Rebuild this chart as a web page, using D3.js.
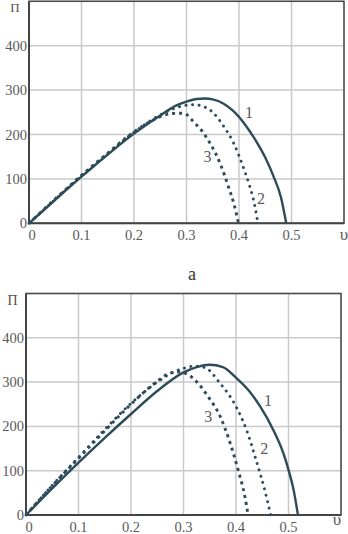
<!DOCTYPE html>
<html><head><meta charset="utf-8">
<script src="https://cdn.jsdelivr.net/npm/d3@7"></script>
<style>body{margin:0;background:#fff}svg{display:block}</style>
</head><body>
<script>
// ---- data ----
const xTicks = [0, 0.1, 0.2, 0.3, 0.4, 0.5];
const xTickLabels = ["0", "0.1", "0.2", "0.3", "0.4", "0.5"];
const yTicks = [0, 100, 200, 300, 400];
const yTickLabels = ["0", "100", "200", "300", "400"];
const seriesNames = ["1", "2", "3"];
// chart a (top)
const a1 = [[0,0],[0.05,53],[0.1,105],[0.15,155],[0.2,202],[0.25,243],[0.28,265],[0.3,274],[0.32,280],[0.335,281],[0.35,279],[0.37,270],[0.39,252],[0.41,225],[0.43,190],[0.45,148],[0.465,108],[0.48,58],[0.49,0]];
const a2 = [[0,0],[0.05,54],[0.1,107],[0.15,157],[0.2,205],[0.25,244],[0.28,260],[0.3,266],[0.315,267],[0.33,264],[0.35,250],[0.37,220],[0.39,180],[0.41,120],[0.42,85],[0.43,40],[0.436,0]];
const a3 = [[0,0],[0.05,55],[0.1,108],[0.15,158],[0.2,206],[0.25,240],[0.27,247],[0.29,248],[0.3,245],[0.313,229],[0.33,207],[0.345,180],[0.364,135],[0.38,82],[0.39,45],[0.399,0]];
// chart b (bottom)
const b1 = [[0,0],[0.05,60],[0.1,118],[0.15,174],[0.2,228],[0.25,280],[0.3,322],[0.325,334],[0.35,339],[0.375,334],[0.4,310],[0.425,280],[0.446,245],[0.471,192],[0.49,140],[0.5,102],[0.51,55],[0.518,0]];
const b2 = [[0,0],[0.05,67],[0.1,130],[0.15,193],[0.2,252],[0.25,300],[0.28,322],[0.3,331],[0.32,336],[0.34,333],[0.37,297],[0.4,245],[0.42,192],[0.44,117],[0.455,55],[0.466,0]];
const b3 = [[0,0],[0.05,66],[0.1,128],[0.15,190],[0.2,250],[0.25,302],[0.27,318],[0.29,323],[0.31,316],[0.325,301],[0.347,267],[0.37,222],[0.389,162],[0.404,102],[0.417,41],[0.423,0]];

const W = 348, H = 534;
const FONT = '"Liberation Serif"';
const svg = d3.select("body").append("svg").attr("width", W).attr("height", H);
const curveColor = "#2d4b58";
const textColor = "#5a5a5a";

function txt(g) {
  return g.append("text").style("font-family", FONT);
}

function drawChart(cfg) {
  const x = d3.scaleLinear().domain([0, 0.6]).range([cfg.x0, cfg.x1]);
  const y = d3.scaleLinear().domain([0, 500]).range([cfg.y0, cfg.y1]);
  const g = svg.append("g");
  // grid
  g.selectAll(".gx").data(xTicks.concat([0.6]).slice(1)).enter().append("line")
    .attr("x1", d => x(d)).attr("x2", d => x(d)).attr("y1", y(0)).attr("y2", y(500))
    .attr("stroke", "#c9c9c9").attr("stroke-width", 1.5);
  g.selectAll(".gy").data(yTicks.concat([500]).slice(1)).enter().append("line")
    .attr("y1", d => y(d)).attr("y2", d => y(d)).attr("x1", x(0)).attr("x2", x(0.6))
    .attr("stroke", "#c9c9c9").attr("stroke-width", 1.5);
  // border
  g.append("rect").attr("x", x(0)).attr("y", y(500)).attr("width", x(0.6) - x(0)).attr("height", y(0) - y(500))
    .attr("fill", "none").attr("stroke", "#4a4a4a").attr("stroke-width", 1.5);
  g.append("line").attr("x1", x(0)).attr("x2", x(0)).attr("y1", y(0)).attr("y2", y(500)).attr("stroke", "#444").attr("stroke-width", 2);
  g.append("line").attr("x1", x(0)).attr("x2", x(0.6)).attr("y1", y(0)).attr("y2", y(0)).attr("stroke", "#444").attr("stroke-width", 2);
  // tick labels
  g.selectAll(".xl").data(xTicks).enter().append("text").style("font-family", FONT)
    .attr("x", (d, i) => x(d) + (i === 0 ? 3 : 0)).attr("y", cfg.y0 + 17)
    .attr("text-anchor", "middle").attr("font-size", 14.5).attr("fill", textColor)
    .text((d, i) => xTickLabels[i]);
  g.selectAll(".yl").data(yTicks).enter().append("text").style("font-family", FONT)
    .attr("x", cfg.x0 - 2).attr("y", d => y(d) + 5)
    .attr("text-anchor", "end").attr("font-size", 14.5).attr("fill", textColor)
    .text((d, i) => yTickLabels[i]);
  txt(g).attr("x", cfg.piX).attr("y", cfg.piY).attr("text-anchor", "middle")
    .attr("font-size", cfg.piSize).attr("fill", "#5a5040").text("П");
  txt(g).attr("x", cfg.nuX).attr("y", cfg.nuY).attr("text-anchor", "middle")
    .attr("font-size", 17).attr("fill", textColor).text("υ");
  // curves
  const line = d3.line().x(d => x(d[0])).y(d => y(d[1])).curve(d3.curveMonotoneX);
  const styles = [
    {dash: null, w: 2.4, cap: "butt"},
    {dash: "0.1 6.5", w: 2.9, cap: "round"},
    {dash: "3 4", w: 2.9, cap: "butt"}
  ];
  cfg.series.forEach((s, i) => {
    g.append("path").attr("d", line(s)).attr("fill", "none").attr("stroke", curveColor)
      .attr("stroke-width", styles[i].w).attr("stroke-linecap", styles[i].cap)
      .attr("stroke-dasharray", styles[i].dash);
  });
  cfg.labels.forEach((p, i) => {
    txt(g).attr("x", x(p[0])).attr("y", y(p[1]) + 5.5).attr("text-anchor", "middle")
      .attr("font-size", 16).attr("fill", textColor).text(seriesNames[i]);
  });
}

drawChart({x0: 29, x1: 344, y0: 223.3, y1: 1.3, series: [a1, a2, a3],
  labels: [[0.419, 250], [0.442, 55], [0.34, 150]],
  piX: 15, piY: 12, piSize: 13, nuX: 344, nuY: 240});
drawChart({x0: 26, x1: 341, y0: 515, y1: 293.5, series: [b1, b2, b3],
  labels: [[0.461, 259], [0.454, 149], [0.347, 223]],
  piX: 12.5, piY: 305, piSize: 14, nuX: 337, nuY: 525});

txt(svg).attr("x", 192).attr("y", 280).attr("text-anchor", "middle")
  .attr("font-size", 18).attr("fill", "#333").text("a");
</script>
</body></html>
